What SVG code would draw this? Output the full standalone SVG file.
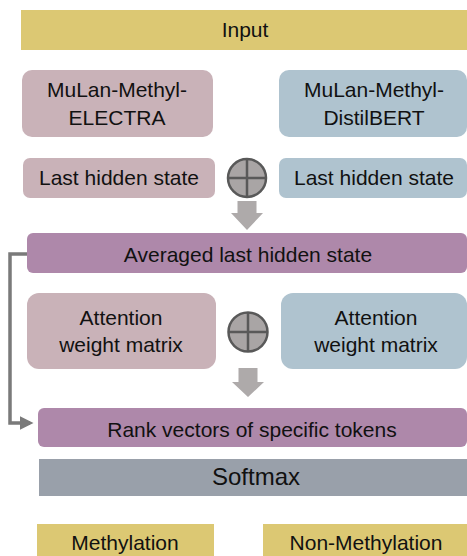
<svg xmlns="http://www.w3.org/2000/svg" width="467" height="556" viewBox="0 0 467 556">
<defs>
<style>
text{font-family:"Liberation Sans",Arial,sans-serif;font-size:21px;fill:#111;text-anchor:middle}
.y{fill:#dcc873}
.p{fill:#c9b2b8}
.b{fill:#afc3cf}
.m{fill:#ae88aa}
.g{fill:#99a0aa}
.op{fill:#a9a5a5;stroke:#595959;stroke-width:2.5}
.ar{fill:#aeaaaa}
.ln{fill:none;stroke:#7a7a7a;stroke-width:3.5}
</style>
<marker id="ah" markerWidth="4" markerHeight="4" refX="3" refY="2" orient="auto" markerUnits="strokeWidth">
<path d="M0,0 L4,2 L0,4 Z" fill="#7a7a7a"/>
</marker>
</defs>
<rect width="467" height="556" fill="#fff"/>
<g id="input"><rect class="y" x="21" y="10" width="446" height="40"/><text x="245" y="37">Input</text></g>
<g id="electra"><rect class="p" x="22" y="70" width="191" height="67" rx="10"/><text x="117" y="97">MuLan-Methyl-</text><text x="117" y="125">ELECTRA</text></g>
<g id="distilbert"><rect class="b" x="279" y="70" width="188" height="67" rx="10"/><text x="374" y="97">MuLan-Methyl-</text><text x="374" y="125">DistilBERT</text></g>
<g id="lhs-left"><rect class="p" x="23" y="158" width="192" height="40" rx="7"/><text x="119" y="185">Last hidden state</text></g>
<g id="lhs-right"><rect class="b" x="279" y="158" width="188" height="40" rx="7"/><text x="374" y="185">Last hidden state</text></g>
<g id="plus1"><circle class="op" cx="247" cy="178" r="19"/><path d="M228,178H266M247,159V197" stroke="#595959" stroke-width="2.5"/></g>
<g id="avg"><rect class="m" x="27" y="233" width="440" height="40" rx="6"/><text x="248" y="262">Averaged last hidden state</text></g>
<g id="att-left"><rect class="p" x="27" y="293" width="189" height="76" rx="12"/><text x="121" y="325">Attention</text><text x="121" y="352">weight matrix</text></g>
<g id="att-right"><rect class="b" x="281" y="293" width="186" height="76" rx="12"/><text x="376" y="325">Attention</text><text x="376" y="352">weight matrix</text></g>
<g id="plus2"><circle class="op" cx="248" cy="332" r="19.5"/><path d="M228.5,332H267.5M248,312.5V351.5" stroke="#595959" stroke-width="2.5"/></g>
<g id="rank"><rect class="m" x="38" y="408" width="429" height="39" rx="6"/><text x="252" y="437">Rank vectors of specific tokens</text></g>
<g id="softmax"><rect class="g" x="39" y="459" width="428" height="37"/><text x="256" y="485" style="font-size:24px">Softmax</text></g>
<g id="methylation"><rect class="y" x="37" y="524" width="177" height="32"/><text x="125" y="550">Methylation</text></g>
<g id="non-methylation"><rect class="y" x="263" y="524" width="204" height="32"/><text x="366" y="550">Non-Methylation</text></g>
<g id="connectors">
<path class="ar" d="M237.5,201H256.5V213H263L247,230L231,213H237.5Z"/>
<path class="ar" d="M238.5,368H257.5V382H264L248,397L232,382H238.5Z"/>
<path class="ln" d="M27,254H10V423H30" marker-end="url(#ah)"/>
</g>
</svg>
